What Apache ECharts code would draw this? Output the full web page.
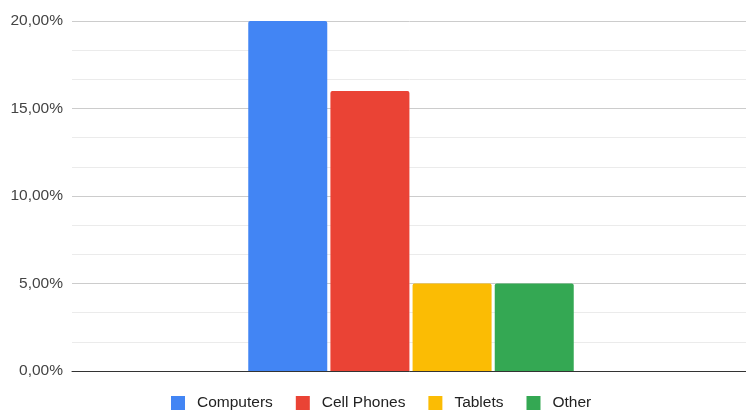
<!DOCTYPE html>
<html>
<head>
<meta charset="utf-8">
<script src="https://cdn.jsdelivr.net/npm/echarts@6/dist/echarts.min.js"></script>
<style>html,body{margin:0;padding:0;background:#fff}#c{width:746px;height:410px}</style>
</head>
<body>
<div id="c"></div>
<script>
const categories = [''];
const seriesNames = ['Computers', 'Cell Phones', 'Tablets', 'Other'];
const seriesValues = [0.20, 0.16, 0.05, 0.05];
const seriesColors = ['#4285F4', '#EA4335', '#FBBC04', '#34A853'];
const yTicks = [0, 0.05, 0.10, 0.15, 0.20];

const chart = echarts.init(document.getElementById('c'), null, {renderer: 'canvas'});
const fmt = v => (v * 100).toFixed(2).replace('.', ',') + '%';
chart.setOption({
  animation: false,
  grid: {left: 72, width: 678, top: 21, bottom: 39, containLabel: false, outerBoundsMode: 'none'},
  legend: {
    bottom: -6, left: 166,
    icon: 'rect', itemWidth: 14, itemHeight: 14, itemGap: 23,
    textStyle: {fontFamily: 'Liberation Sans, Arial, sans-serif', fontSize: 15.5, color: '#222', padding: [0, 0, 0, 7]},
    data: seriesNames
  },
  xAxis: {
    type: 'category', data: categories,
    axisLine: {lineStyle: {color: '#333', width: 1}},
    axisTick: {show: false}, axisLabel: {show: false}
  },
  yAxis: {
    type: 'value', min: yTicks[0], max: yTicks[yTicks.length - 1], interval: 0.05,
    axisLine: {show: false}, axisTick: {show: false},
    axisLabel: {formatter: fmt, fontFamily: 'Liberation Sans, Arial, sans-serif', fontSize: 15.5, color: '#444', margin: 9},
    splitLine: {lineStyle: {color: '#ccc', width: 1}},
    minorTick: {show: false, splitNumber: 3},
    minorSplitLine: {show: true, lineStyle: {color: '#ebebeb', width: 1}}
  },
  series: seriesNames.map((n, i) => ({
    name: n, type: 'bar', barWidth: 79, barGap: '4%',
    itemStyle: {color: seriesColors[i], borderRadius: [2, 2, 0, 0]},
    data: [seriesValues[i]]
  }))
});
</script>
</body>
</html>
